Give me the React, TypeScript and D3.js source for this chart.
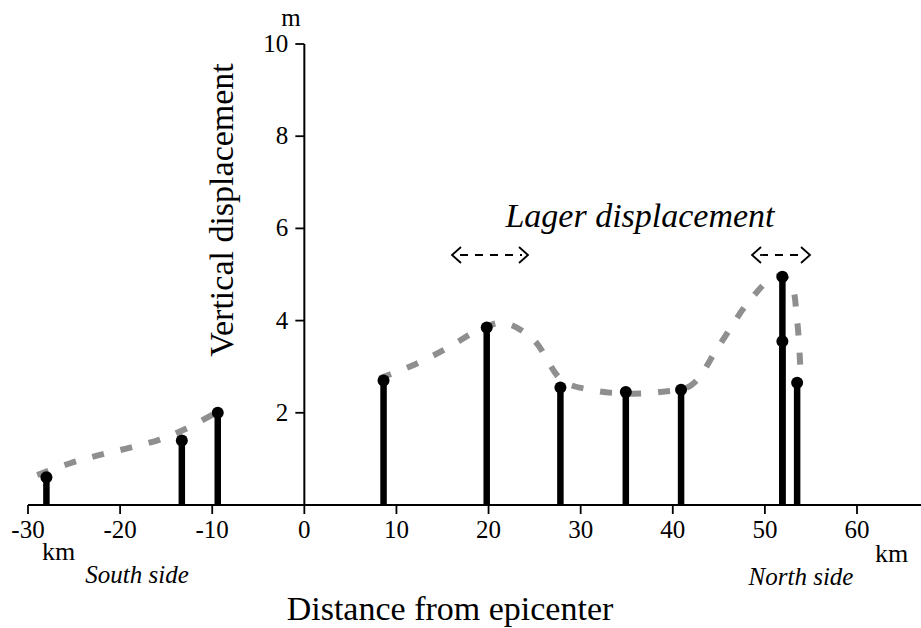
import * as d3 from "d3";

// measured stations: distance from epicenter (km) and vertical displacement (m)
const stationKm = [-28, -13.3, -9.4, 8.6, 19.8, 27.8, 34.9, 40.9, 51.9, 51.9, 53.5];
const stationM = [0.6, 1.4, 2.0, 2.7, 3.85, 2.55, 2.45, 2.5, 4.95, 3.55, 2.65];

// grey dashed trend, south part
const southKm = [-29, -25.5, -22.3, -19, -15.7, -12.8, -9.8];
const southM = [0.65, 0.9, 1.08, 1.24, 1.42, 1.66, 1.98];

// grey dashed trend, north part
const northKm = [8.2, 12, 15.5, 18.5, 21.5, 24.8, 28, 31, 34.5, 38.6, 42, 45, 48.4, 51.1, 52.7, 53.5, 53.9];
const northM = [2.75, 3.05, 3.4, 3.75, 3.95, 3.6, 2.7, 2.5, 2.42, 2.45, 2.6, 3.45, 4.45, 4.95, 4.85, 4.0, 2.7];

const xTicks = [-30, -20, -10, 0, 10, 20, 30, 40, 50, 60];
const yTicks = [2, 4, 6, 8, 10];

const W = 921;
const H = 628;
const serif = "'Liberation Serif', 'Times New Roman', serif";

export default function App() {
  const x = d3.scaleLinear().domain([-30, 60]).range([28, 857]);
  const y = d3.scaleLinear().domain([0, 10]).range([505, 44]);

  const line = d3
    .line<[number, number]>()
    .x((d) => x(d[0]))
    .y((d) => y(d[1]))
    .curve(d3.curveCatmullRom);

  const south = southKm.map((k, i) => [k, southM[i]] as [number, number]);
  const north = northKm.map((k, i) => [k, northM[i]] as [number, number]);

  const arrow = (x0: number, x1: number, yy: number) => (
    <g stroke="#000" strokeWidth={1.8} fill="none">
      <path d={`M${x0 + 9},${yy - 8} L${x0},${yy} L${x0 + 9},${yy + 8}`} />
      <path d={`M${x1 - 9},${yy - 8} L${x1},${yy} L${x1 - 9},${yy + 8}`} />
      <line x1={x0 + 8} x2={x1 - 6} y1={yy} y2={yy} strokeDasharray="8,7" />
    </g>
  );

  return (
    <div style={{ position: "absolute", left: 0, top: 0 }}>
      <svg width={W} height={H} style={{ display: "block", background: "#fff" }} fontFamily={serif}>
        {/* dashed grey trend */}
        {[south, north].map((pts, i) => (
          <path
            key={i}
            d={line(pts) || ""}
            fill="none"
            stroke="#8f8f8f"
            strokeWidth={6}
            strokeDasharray="12,17"
          />
        ))}

        {/* stems */}
        {stationKm.map((k, i) => (
          <g key={i}>
            <line x1={x(k)} x2={x(k)} y1={y(0)} y2={y(stationM[i])} stroke="#000" strokeWidth={6.5} />
            <circle cx={x(k)} cy={y(stationM[i])} r={6} fill="#000" />
          </g>
        ))}

        {/* x axis */}
        <line x1={x(-30)} x2={W} y1={y(0)} y2={y(0)} stroke="#000" strokeWidth={2} />
        {xTicks.map((t) => (
          <g key={t}>
            <line x1={x(t)} x2={x(t)} y1={y(0)} y2={y(0) + 9} stroke="#000" strokeWidth={1.8} />
            <text x={x(t)} y={538} textAnchor="middle" fontSize={25}>
              {t}
            </text>
          </g>
        ))}
        <text x={42} y={560} fontSize={26}>km</text>
        <text x={875} y={562} fontSize={26}>km</text>
        <text x={137} y={583} textAnchor="middle" fontSize={25} fontStyle="italic">South side</text>
        <text x={801} y={585} textAnchor="middle" fontSize={25} fontStyle="italic">North side</text>
        <text x={450} y={620} textAnchor="middle" fontSize={34}>Distance from epicenter</text>

        {/* y axis */}
        <line x1={x(0)} x2={x(0)} y1={y(10)} y2={y(0)} stroke="#000" strokeWidth={2} />
        {yTicks.map((t) => (
          <g key={t}>
            <line x1={x(0) - 9} x2={x(0)} y1={y(t)} y2={y(t)} stroke="#000" strokeWidth={1.8} />
            <text x={x(0) - 16} y={y(t) + 8} textAnchor="end" fontSize={25}>
              {t}
            </text>
          </g>
        ))}
        <text x={291} y={26} textAnchor="middle" fontSize={25}>m</text>
        <text transform={`translate(233,210) rotate(-90)`} textAnchor="middle" fontSize={34}>
          Vertical displacement
        </text>

        {/* annotation */}
        <text x={640} y={227} textAnchor="middle" fontSize={34} fontStyle="italic">
          Lager displacement
        </text>
        {arrow(452, 528, 255)}
        {arrow(752, 810, 255)}
      </svg>
    </div>
  );
}
